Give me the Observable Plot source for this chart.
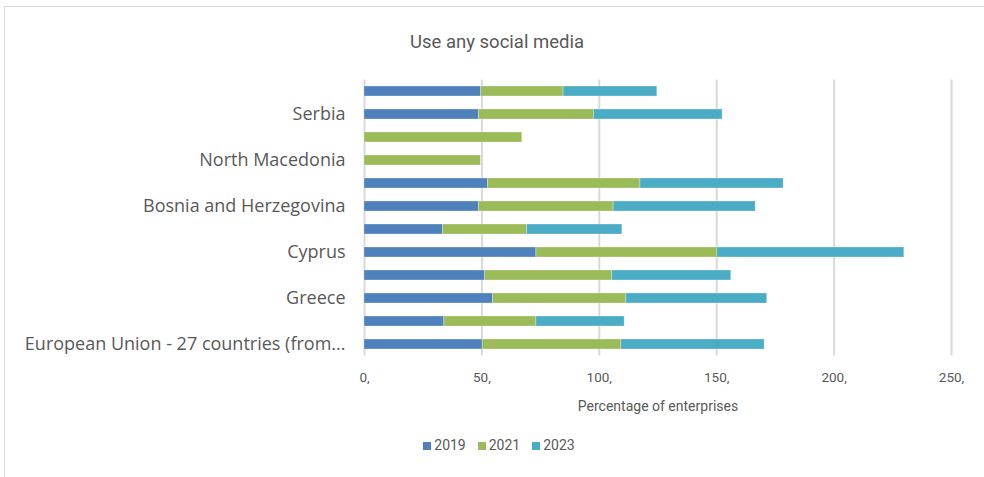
<!DOCTYPE html>
<html>
<head>
<meta charset="utf-8">
<script src="https://cdn.jsdelivr.net/npm/d3@7"></script>
<script src="https://cdn.jsdelivr.net/npm/@observablehq/plot@0.6"></script>
<style>
  html, body { margin: 0; padding: 0; background: #fff; }
  #wrap { position: relative; width: 984px; height: 477px; overflow: hidden; }
  #frame { position: absolute; left: 4px; top: 6px; width: 990px; height: 480px; border: 1px solid #d9d9d9; box-sizing: border-box; }
  #title { position: absolute; left: 0; width: 994px; top: 31px; text-align: center; font-family: "Liberation Sans Narrow", "Roboto", sans-serif; font-size: 18.5px; color: #595959; }
  #chart { position: absolute; left: 0; top: 70px; }
  #legend { position: absolute; left: 0; width: 998px; top: 437px; text-align: center; font-family: "Liberation Sans Narrow", "Roboto", sans-serif; font-size: 14px; color: #595959; }
  #legend span.item { margin: 0 6px; }
  #legend span.sw { display: inline-block; width: 8px; height: 8px; margin-right: 3px; vertical-align: 0px; }
</style>
</head>
<body>
<div id="wrap">
  <div id="frame"></div>
  <div id="title">Use any social media</div>
  <div id="chart"></div>
  <div id="legend"></div>
</div>
<script>
// Categories, top to bottom as drawn (unlabelled rows are shown without a tick label, as in the reference)
const countries = ["Türkiye", "Serbia", "Albania", "North Macedonia", "Montenegro", "Bosnia and Herzegovina", "Romania", "Cyprus", "Croatia", "Greece", "Bulgaria", "European Union - 27 countries (from 2020)"];
const shownLabels = ["Serbia", "North Macedonia", "Bosnia and Herzegovina", "Cyprus", "Greece", "European Union - 27 countries (from 2020)"];
const years = ["2019", "2021", "2023"];
const v2019 = [49.7, 48.7, null, null, 52.6, 48.7, 33.4, 73.2, 51.4, 54.7, 34.0, 50.3];
const v2021 = [35.1, 49.0, 67.2, 49.6, 64.9, 57.4, 35.9, 77.1, 54.1, 56.8, 39.2, 59.1];
const v2023 = [39.9, 54.8, null, null, 61.0, 60.5, 40.5, 79.6, 50.7, 60.0, 37.6, 61.0];
const colors = ["#4f81bd", "#9bbb59", "#4bacc6"];
const xTicks = [0, 50, 100, 150, 200, 250];

const series = [v2019, v2021, v2023];
const data = [];
years.forEach((yr, i) => {
  countries.forEach((c, j) => {
    if (series[i][j] != null) data.push({country: c, year: yr, value: series[i][j]});
  });
});

const shortLabel = (c) => {
  if (!shownLabels.includes(c)) return "";
  return c.length > 30 ? "European Union - 27 countries (from..." : c;
};

const chart = Plot.plot({
  width: 984,
  height: 350,
  marginLeft: 364,
  marginRight: 33,
  marginTop: 9.5,
  marginBottom: 64.5,
  style: {background: "transparent", color: "#595959"},
  x: {domain: [0, 250]},
  y: {domain: countries, paddingInner: 0.56, paddingOuter: 0.28},
  color: {domain: years, range: colors},
  marks: [
    Plot.ruleX(xTicks, {stroke: "#d9d9d9", strokeWidth: 2}),
    Plot.barX(data, {x: "value", y: "country", fill: "year", order: years, stroke: "#ffffff", strokeOpacity: 0.35, strokeWidth: 0.8}),
    Plot.axisY({tickSize: 0, tickPadding: 19, tickFormat: shortLabel, fontSize: 18, fontFamily: "'Open Sans', 'Noto Sans', sans-serif", label: null}),
    Plot.axisX({ticks: xTicks, tickSize: 0, tickPadding: 16, tickFormat: d => d + ",", fontSize: 13.5, fontFamily: "'Liberation Sans Narrow', 'Roboto', sans-serif", label: null}),
    Plot.axisX({ticks: [], tickSize: 0, label: "Percentage of enterprises", labelAnchor: "center", labelArrow: "none", labelOffset: 55, fontSize: 14, fontFamily: "'Liberation Sans Narrow', 'Roboto', sans-serif"})
  ]
});
document.getElementById("chart").appendChild(chart);

const legend = document.getElementById("legend");
years.forEach((yr, i) => {
  const item = document.createElement("span");
  item.className = "item";
  const sw = document.createElement("span");
  sw.className = "sw";
  sw.style.background = colors[i];
  item.appendChild(sw);
  item.appendChild(document.createTextNode(yr));
  legend.appendChild(item);
});
</script>
</body>
</html>
